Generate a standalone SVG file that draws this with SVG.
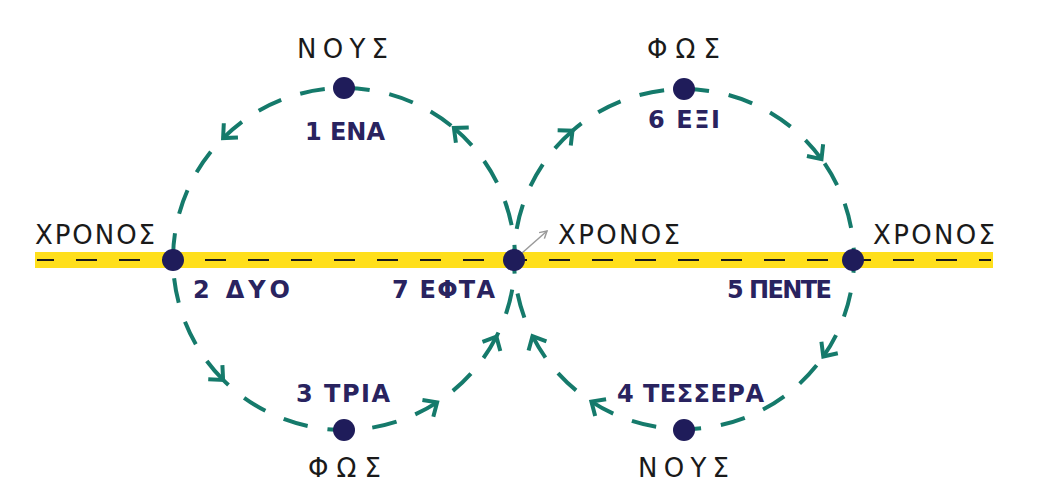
<svg xmlns="http://www.w3.org/2000/svg" width="1051" height="501" viewBox="0 0 1051 501">
<style>
.band{fill:#ffdf1c}
.axis{stroke:#1a1a1a;stroke-width:2;stroke-dasharray:21 22;fill:none}
.flow{stroke:#157a6b;stroke-width:4;fill:none;stroke-dasharray:25 20}
.chev{stroke:#157a6b;stroke-width:4;fill:none;stroke-linecap:butt;stroke-linejoin:miter}
.node{fill:#1f1c5a}
.blk{font-family:"DejaVu Sans","Noto Sans",sans-serif;font-size:26px;fill:#1a1a1a}
.lab{font-family:"DejaVu Sans","Noto Sans",sans-serif;font-weight:bold;font-size:24px;fill:#29235f}
</style>
<defs>
<path id="chev" class="chev" d="M-11,-10 L0,0 L-11,10"/>
<marker id="garr" markerWidth="10" markerHeight="10" refX="8" refY="5" orient="auto" markerUnits="userSpaceOnUse">
<path d="M1,1 L8,5 L1,9" fill="none" stroke="#9a9a9a" stroke-width="1.5"/>
</marker>
</defs>
<rect width="1051" height="501" fill="#ffffff"/>
<g id="axis">
<rect class="band" x="35" y="252" width="958" height="16"/>
<line class="axis" x1="37" y1="260" x2="991" y2="260" stroke-dashoffset="4"/>
</g>
<g id="connectors">
<path class="flow" d="M223.1,138.1 A171,171 0 0 1 453.9,128.0"/>
<path class="flow" d="M223.1,379.9 A171,171 0 0 1 223.1,138.1"/>
<path class="flow" d="M437.1,402.4 A171,171 0 0 1 223.1,379.9"/>
<path class="flow" d="M496.4,336.6 A171,171 0 0 1 437.1,402.4"/>
<path class="flow" d="M453.9,128.0 A171,171 0 0 1 496.4,336.6"/>
<path class="flow" d="M572.5,130.7 A170,170 0 0 0 532.5,336.2"/>
<path class="flow" d="M821.5,159.1 A170,170 0 0 0 572.5,130.7"/>
<path class="flow" d="M823.3,356.5 A170,170 0 0 0 821.5,159.1"/>
<path class="flow" d="M591.4,401.6 A170,170 0 0 0 823.3,356.5"/>
<path class="flow" d="M532.5,336.2 A170,170 0 0 0 591.4,401.6"/>
<use href="#chev" transform="translate(223.1,138.1) rotate(135)"/>
<use href="#chev" transform="translate(223.1,379.9) rotate(45)"/>
<use href="#chev" transform="translate(437.1,402.4) rotate(-33)"/>
<use href="#chev" transform="translate(496.4,336.6) rotate(-63)"/>
<use href="#chev" transform="translate(453.9,128.0) rotate(220)"/>
<use href="#chev" transform="translate(572.5,130.7) rotate(319)"/>
<use href="#chev" transform="translate(821.5,159.1) rotate(54)"/>
<use href="#chev" transform="translate(823.3,356.5) rotate(125)"/>
<use href="#chev" transform="translate(591.4,401.6) rotate(213)"/>
<use href="#chev" transform="translate(532.5,336.2) rotate(243)"/>
<line x1="522" y1="253" x2="547" y2="231" stroke="#9a9a9a" stroke-width="1.5" marker-end="url(#garr)"/>
</g>
<g id="n-top-left"><circle class="node" cx="344" cy="88" r="11"/><text class="blk" x="297" y="58" textLength="91" lengthAdjust="spacing">ΝΟΥΣ</text><text class="lab" x="305" y="140" textLength="80" lengthAdjust="spacing">1 ΕΝΑ</text></g>
<g id="n-top-right"><circle class="node" cx="684" cy="89" r="11"/><text class="blk" x="647" y="58" textLength="73" lengthAdjust="spacing">ΦΩΣ</text><text class="lab" x="648" y="128" textLength="72" lengthAdjust="spacing">6 ΕΞΙ</text></g>
<g id="n-left"><circle class="node" cx="173" cy="260" r="11"/><text class="blk" x="35" y="244" textLength="120" lengthAdjust="spacing">ΧΡΟΝΟΣ</text><text class="lab" x="193" y="298" textLength="97" lengthAdjust="spacing">2 ΔΥΟ</text></g>
<g id="n-middle"><circle class="node" cx="514" cy="260" r="11"/><text class="blk" x="558" y="244" textLength="122" lengthAdjust="spacing">ΧΡΟΝΟΣ</text><text class="lab" x="392" y="298" textLength="103" lengthAdjust="spacing">7 ΕΦΤΑ</text></g>
<g id="n-right"><circle class="node" cx="853" cy="260" r="11"/><text class="blk" x="873" y="244" textLength="122" lengthAdjust="spacing">ΧΡΟΝΟΣ</text><text class="lab" x="727" y="298" textLength="105" lengthAdjust="spacing">5 ΠΕΝΤΕ</text></g>
<g id="n-bottom-left"><circle class="node" cx="344" cy="430" r="11"/><text class="blk" x="308" y="477" textLength="73" lengthAdjust="spacing">ΦΩΣ</text><text class="lab" x="296" y="402" textLength="94" lengthAdjust="spacing">3 ΤΡΙΑ</text></g>
<g id="n-bottom-right"><circle class="node" cx="684" cy="430" r="11"/><text class="blk" x="638" y="477" textLength="91" lengthAdjust="spacing">ΝΟΥΣ</text><text class="lab" x="617" y="402" textLength="147" lengthAdjust="spacing">4 ΤΕΣΣΕΡΑ</text></g>
</svg>
